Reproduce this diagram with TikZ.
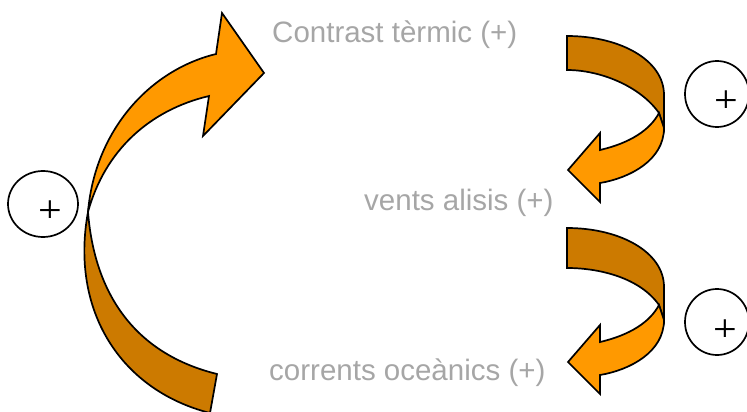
\documentclass[tikz,border=0pt]{standalone}
\usepackage{fontspec}
\setmainfont{Liberation Sans}
\newfontfamily\signfont{Liberation Serif}
\definecolor{orangeFront}{RGB}{255,153,0}
\definecolor{orangeBack}{RGB}{204,122,0}
\definecolor{labelGray}{RGB}{166,166,166}
\usetikzlibrary{shapes.geometric}

% A twisted ribbon arrow bending down to the left.
% #1: vertical offset, #2: lower edge of the tail end
\newcommand\twistarrow[2]{%
  \begin{scope}[shift={(0,#1)}]
    \path[back] (567,36) .. controls (620,36) and (664,60) .. (664,95)
      -- (664,128) -- (659,113) .. controls (640,86) and (600,#2) .. (567,#2) -- cycle;
    \path[front] (659,113) -- (664,128) .. controls (664,160) and (630,178) .. (600,183)
      -- (600,202) -- (568,170) -- (600,133) -- (600,150)
      .. controls (630,143) and (650,130) .. (659,113) -- cycle;
  \end{scope}}

% A plus sign whose lower arm is cut short
\newcommand\plusmark[3]{%
  \begin{scope}
    \clip ({#1-15},{#2-15}) rectangle ({#1+15},{#2+4.5});
    \node[sign] (#3) at (#1,#2) {+};
  \end{scope}}

\begin{document}
\begin{tikzpicture}[x=1pt,y=-1pt,
  ribbon/.style={draw=black, line width=1.7pt, line join=miter},
  back/.style={ribbon, fill=orangeBack},
  front/.style={ribbon, fill=orangeFront},
  ring/.style={draw=black, line width=1.7pt, ellipse, inner sep=0pt},
  label/.style={text=labelGray, font=\fontsize{29.5}{34}\selectfont, anchor=base west, inner sep=0pt},
  sign/.style={font=\signfont\fontsize{42}{42}\selectfont, inner sep=0pt}]
\useasboundingbox (0,0) rectangle (747,412);

% large arrow on the left: tail at the bottom, head at the top
\path[back] (210,413) .. controls (120,390) and (70,310) .. (88,212)
  .. controls (95,300) and (140,355) .. (217,374) -- cycle;
\path[front] (88,212) .. controls (95,130) and (150,70) .. (216,54)
  -- (222,13) -- (264,73) -- (203,136) -- (209,96)
  .. controls (150,110) and (105,150) .. (88,212) -- cycle;

% two small arrows on the right
\twistarrow{0}{70}
\twistarrow{192}{76}

% labels
\node[label] (thermal) at (272,43) {Contrast tèrmic (+)};
\node[label] (winds) at (364,210) {vents alisis (+)};
\node[label] (currents) at (269,380) {corrents oceànics (+)};

% circled signs
\node[ring, minimum width=70pt, minimum height=66pt] (loopL) at (43,204) {};
\node[ring, minimum width=64pt, minimum height=66pt] (loopA) at (717,94) {};
\node[ring, minimum width=64pt, minimum height=66pt] (loopB) at (717,322) {};
\plusmark{50}{213}{signL}
\plusmark{726}{103}{signA}
\plusmark{725}{332}{signB}
\end{tikzpicture}
\end{document}
